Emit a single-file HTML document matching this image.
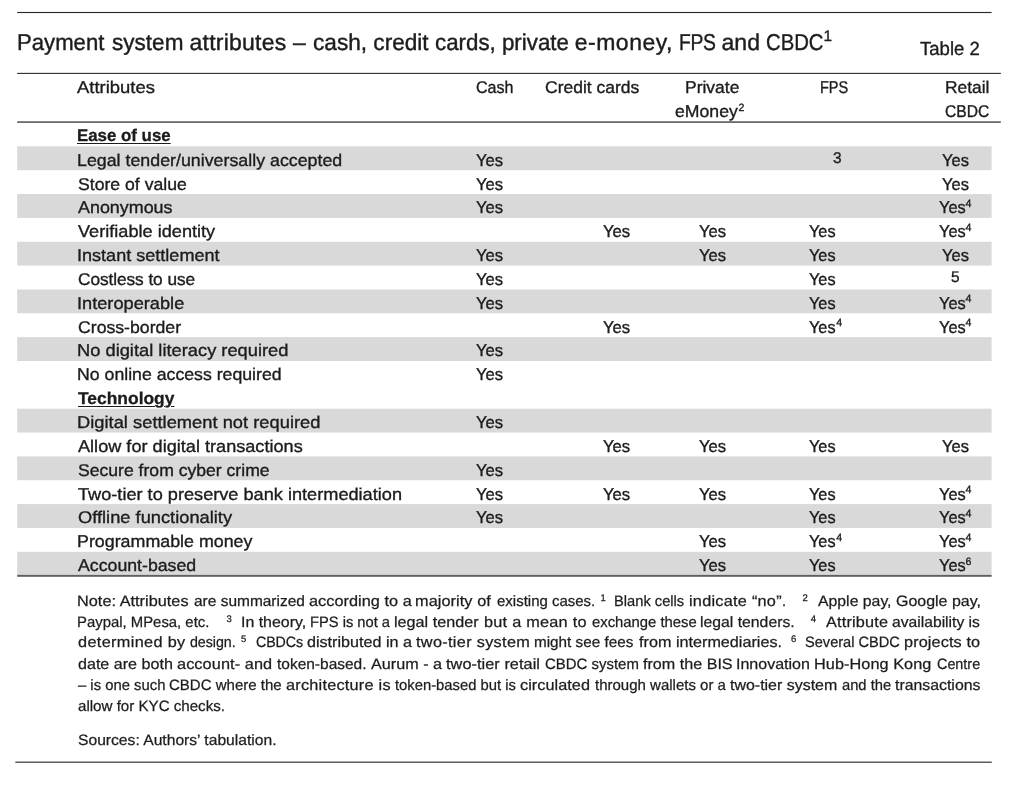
<!DOCTYPE html>
<html lang="en"><head><meta charset="utf-8"><title>Table 2</title>
<style>
html,body{margin:0;padding:0;background:#fff;}
body{width:1010px;height:789px;position:relative;overflow:hidden;font-family:"Liberation Sans", sans-serif;color:#1c1c1c;text-rendering:geometricPrecision;}
.bg{position:absolute;left:0;top:0;}
.t{position:absolute;white-space:pre;line-height:1;transform-origin:0 0;-webkit-text-stroke:0.35px #1c1c1c;}
.b{font-weight:bold;-webkit-text-stroke-width:0.3px;}
.n{-webkit-text-stroke-width:0.25px;}
.h{-webkit-text-stroke-width:0.4px;}
.u{text-decoration:underline;text-decoration-thickness:1.4px;text-underline-offset:1.8px;}
</style></head><body>
<svg class="bg" width="1010" height="789" viewBox="0 0 1010 789">
<rect x="17.20" y="146.35" width="974.40" height="23.85" fill="#d9d9d9"/>
<rect x="17.20" y="194.05" width="974.40" height="23.85" fill="#d9d9d9"/>
<rect x="17.20" y="241.75" width="974.40" height="23.85" fill="#d9d9d9"/>
<rect x="17.20" y="289.45" width="974.40" height="23.85" fill="#d9d9d9"/>
<rect x="17.20" y="337.15" width="974.40" height="23.85" fill="#d9d9d9"/>
<rect x="17.20" y="408.70" width="974.40" height="23.85" fill="#d9d9d9"/>
<rect x="17.20" y="456.40" width="974.40" height="23.85" fill="#d9d9d9"/>
<rect x="17.20" y="504.10" width="974.40" height="23.85" fill="#d9d9d9"/>
<rect x="17.20" y="551.80" width="974.40" height="23.85" fill="#d9d9d9"/>
<rect x="17.20" y="11.93" width="974.40" height="1.15" fill="#2a2a2a"/>
<rect x="17.20" y="72.85" width="983.60" height="1.10" fill="#2a2a2a"/>
<rect x="17.20" y="121.20" width="983.60" height="1.80" fill="#6a6a6a"/>
<rect x="17.20" y="574.90" width="974.40" height="1.90" fill="#606060"/>
<rect x="15.30" y="761.60" width="976.50" height="1.20" fill="#333"/>
</svg>
<div class="t h" style="left:17.44px;top:31px;font-size:23px;transform:scaleX(0.9624)">Payment </div>
<div class="t h" style="left:111.90px;top:31px;font-size:23px;transform:scaleX(0.9807)">system </div>
<div class="t h" style="left:189.60px;top:31px;font-size:23px;letter-spacing:0.225px">attributes – </div>
<div class="t h" style="left:312.70px;top:31px;font-size:23px;transform:scaleX(0.9831)">cash, credit </div>
<div class="t h" style="left:434.60px;top:31px;font-size:23px;transform:scaleX(0.9699)">cards, private </div>
<div class="t h" style="left:574.70px;top:31px;font-size:23px;letter-spacing:0.516px">e-money, </div>
<div class="t h" style="left:679.06px;top:31px;font-size:23px;transform:scaleX(0.8400);letter-spacing:-0.429px">FPS </div>
<div class="t h" style="left:721.40px;top:31px;font-size:23px;letter-spacing:0.084px">and </div>
<div class="t h" style="left:765.62px;top:31px;font-size:23px;transform:scaleX(0.8826)">CBDC</div>
<div class="t" style="left:823.40px;top:29px;font-size:15.4px">1</div>
<div class="t" style="left:920.40px;top:40px;font-size:19px;transform:scaleX(0.9769)">Table 2</div>
<div class="t" style="left:77.40px;top:79px;font-size:17px;transform:scaleX(1.0840)">Attributes</div>
<div class="t" style="left:475.80px;top:79px;font-size:17px;transform:scaleX(0.9457)">Cash</div>
<div class="t" style="left:545.20px;top:79px;font-size:17px;transform:scaleX(1.0292)">Credit cards</div>
<div class="t" style="left:685.47px;top:79px;font-size:17px;transform:scaleX(1.0281)">Private</div>
<div class="t" style="left:674.50px;top:103px;font-size:17px;transform:scaleX(1.0381)">eMoney</div>
<div class="t" style="left:738.60px;top:103px;font-size:10.6px">2</div>
<div class="t" style="left:819.95px;top:79px;font-size:17px;transform:scaleX(0.8543)">FPS</div>
<div class="t" style="left:945.48px;top:79px;font-size:17px;transform:scaleX(1.0219)">Retail</div>
<div class="t" style="left:945.10px;top:103px;font-size:17px;transform:scaleX(0.9187)">CBDC</div>
<div class="t b u" style="left:76.71px;top:127px;font-size:17px;transform:scaleX(0.9910)">Ease of use</div>
<div class="t l" style="left:76.65px;top:152px;font-size:17px;transform:scaleX(1.0472)">Legal tender/universally accepted</div>
<div class="t l" style="left:77.70px;top:176px;font-size:17px;transform:scaleX(1.0369)">Store of value</div>
<div class="t l" style="left:77.70px;top:199px;font-size:17px;transform:scaleX(1.0530)">Anonymous</div>
<div class="t l" style="left:77.70px;top:223px;font-size:17px;transform:scaleX(1.0673)">Verifiable identity</div>
<div class="t l" style="left:76.64px;top:247px;font-size:17px;transform:scaleX(1.0625)">Instant settlement</div>
<div class="t l" style="left:77.70px;top:271px;font-size:17px;transform:scaleX(1.0150);letter-spacing:-0.063px">Costless to use</div>
<div class="t l" style="left:76.63px;top:295px;font-size:17px;transform:scaleX(1.0706)">Interoperable</div>
<div class="t l" style="left:77.70px;top:319px;font-size:17px;transform:scaleX(1.0388)">Cross-border</div>
<div class="t l" style="left:76.62px;top:342px;font-size:17px;transform:scaleX(1.0750);letter-spacing:0.006px">No digital literacy required</div>
<div class="t l" style="left:76.66px;top:366px;font-size:17px;transform:scaleX(1.0410)">No online access required</div>
<div class="t b u" style="left:77.70px;top:390px;font-size:17px;transform:scaleX(1.0245)">Technology</div>
<div class="t l" style="left:76.62px;top:414px;font-size:17px;transform:scaleX(1.0750);letter-spacing:0.021px">Digital settlement not required</div>
<div class="t l" style="left:77.70px;top:438px;font-size:17px;transform:scaleX(1.0666)">Allow for digital transactions</div>
<div class="t l" style="left:77.70px;top:462px;font-size:17px;transform:scaleX(1.0346)">Secure from cyber crime</div>
<div class="t l" style="left:77.70px;top:486px;font-size:17px;transform:scaleX(1.0682)">Two-tier to preserve bank intermediation</div>
<div class="t l" style="left:77.70px;top:509px;font-size:17px;transform:scaleX(1.0749)">Offline functionality</div>
<div class="t l" style="left:76.65px;top:533px;font-size:17px;transform:scaleX(1.0490)">Programmable money</div>
<div class="t l" style="left:77.70px;top:557px;font-size:17px;transform:scaleX(1.0420)">Account-based</div>
<div class="t" style="left:475.80px;top:152px;font-size:17px;transform:scaleX(0.9768)">Yes</div>
<div class="t" style="left:475.80px;top:176px;font-size:17px;transform:scaleX(0.9768)">Yes</div>
<div class="t" style="left:475.80px;top:199px;font-size:17px;transform:scaleX(0.9768)">Yes</div>
<div class="t" style="left:475.80px;top:247px;font-size:17px;transform:scaleX(0.9768)">Yes</div>
<div class="t" style="left:475.80px;top:271px;font-size:17px;transform:scaleX(0.9768)">Yes</div>
<div class="t" style="left:475.80px;top:295px;font-size:17px;transform:scaleX(0.9768)">Yes</div>
<div class="t" style="left:475.80px;top:342px;font-size:17px;transform:scaleX(0.9768)">Yes</div>
<div class="t" style="left:475.80px;top:366px;font-size:17px;transform:scaleX(0.9768)">Yes</div>
<div class="t" style="left:475.80px;top:414px;font-size:17px;transform:scaleX(0.9768)">Yes</div>
<div class="t" style="left:475.80px;top:462px;font-size:17px;transform:scaleX(0.9768)">Yes</div>
<div class="t" style="left:475.80px;top:486px;font-size:17px;transform:scaleX(0.9768)">Yes</div>
<div class="t" style="left:475.80px;top:509px;font-size:17px;transform:scaleX(0.9768)">Yes</div>
<div class="t" style="left:602.50px;top:223px;font-size:17px;transform:scaleX(0.9804)">Yes</div>
<div class="t" style="left:602.50px;top:319px;font-size:17px;transform:scaleX(0.9804)">Yes</div>
<div class="t" style="left:602.50px;top:438px;font-size:17px;transform:scaleX(0.9804)">Yes</div>
<div class="t" style="left:602.50px;top:486px;font-size:17px;transform:scaleX(0.9804)">Yes</div>
<div class="t" style="left:699.20px;top:223px;font-size:17px;transform:scaleX(0.9768)">Yes</div>
<div class="t" style="left:699.20px;top:247px;font-size:17px;transform:scaleX(0.9768)">Yes</div>
<div class="t" style="left:699.20px;top:438px;font-size:17px;transform:scaleX(0.9768)">Yes</div>
<div class="t" style="left:699.20px;top:486px;font-size:17px;transform:scaleX(0.9768)">Yes</div>
<div class="t" style="left:699.20px;top:533px;font-size:17px;transform:scaleX(0.9768)">Yes</div>
<div class="t" style="left:699.20px;top:557px;font-size:17px;transform:scaleX(0.9768)">Yes</div>
<div class="t" style="left:809.30px;top:223px;font-size:17px;transform:scaleX(0.9584)">Yes</div>
<div class="t" style="left:809.30px;top:247px;font-size:17px;transform:scaleX(0.9584)">Yes</div>
<div class="t" style="left:809.30px;top:271px;font-size:17px;transform:scaleX(0.9584)">Yes</div>
<div class="t" style="left:809.30px;top:295px;font-size:17px;transform:scaleX(0.9584)">Yes</div>
<div class="t" style="left:809.30px;top:319px;font-size:17px;transform:scaleX(0.9584)">Yes</div>
<div class="t" style="left:836.20px;top:318px;font-size:10.6px">4</div>
<div class="t" style="left:809.30px;top:438px;font-size:17px;transform:scaleX(0.9584)">Yes</div>
<div class="t" style="left:809.30px;top:486px;font-size:17px;transform:scaleX(0.9584)">Yes</div>
<div class="t" style="left:809.30px;top:509px;font-size:17px;transform:scaleX(0.9584)">Yes</div>
<div class="t" style="left:809.30px;top:533px;font-size:17px;transform:scaleX(0.9584)">Yes</div>
<div class="t" style="left:836.20px;top:533px;font-size:10.6px">4</div>
<div class="t" style="left:809.30px;top:557px;font-size:17px;transform:scaleX(0.9584)">Yes</div>
<div class="t" style="left:941.90px;top:152px;font-size:17px;transform:scaleX(0.9694)">Yes</div>
<div class="t" style="left:941.90px;top:176px;font-size:17px;transform:scaleX(0.9694)">Yes</div>
<div class="t" style="left:941.90px;top:247px;font-size:17px;transform:scaleX(0.9694)">Yes</div>
<div class="t" style="left:941.90px;top:438px;font-size:17px;transform:scaleX(0.9694)">Yes</div>
<div class="t" style="left:938.80px;top:199px;font-size:17px;transform:scaleX(0.9621)">Yes</div>
<div class="t" style="left:965.60px;top:199px;font-size:10.6px">4</div>
<div class="t" style="left:938.80px;top:223px;font-size:17px;transform:scaleX(0.9621)">Yes</div>
<div class="t" style="left:965.60px;top:223px;font-size:10.6px">4</div>
<div class="t" style="left:938.80px;top:295px;font-size:17px;transform:scaleX(0.9621)">Yes</div>
<div class="t" style="left:965.60px;top:294px;font-size:10.6px">4</div>
<div class="t" style="left:938.80px;top:319px;font-size:17px;transform:scaleX(0.9621)">Yes</div>
<div class="t" style="left:965.60px;top:318px;font-size:10.6px">4</div>
<div class="t" style="left:938.80px;top:486px;font-size:17px;transform:scaleX(0.9621)">Yes</div>
<div class="t" style="left:965.60px;top:485px;font-size:10.6px">4</div>
<div class="t" style="left:938.80px;top:509px;font-size:17px;transform:scaleX(0.9621)">Yes</div>
<div class="t" style="left:965.60px;top:509px;font-size:10.6px">4</div>
<div class="t" style="left:938.80px;top:533px;font-size:17px;transform:scaleX(0.9621)">Yes</div>
<div class="t" style="left:965.60px;top:533px;font-size:10.6px">4</div>
<div class="t" style="left:938.80px;top:557px;font-size:17px;transform:scaleX(0.9621)">Yes</div>
<div class="t" style="left:965.60px;top:557px;font-size:10.6px">6</div>
<div class="t" style="left:833.05px;top:151px;font-size:15.4px">3</div>
<div class="t" style="left:950.95px;top:270px;font-size:15.4px">5</div>
<div class="t n" style="left:76.62px;top:594px;font-size:15px;transform:scaleX(1.0850);letter-spacing:0.017px">Note: Attributes </div>
<div class="t n" style="left:193.80px;top:594px;font-size:15px;transform:scaleX(1.0313)">are summarized </div>
<div class="t n" style="left:309.00px;top:594px;font-size:15px;transform:scaleX(1.0850);letter-spacing:0.033px">according to a </div>
<div class="t n" style="left:415.22px;top:594px;font-size:15px;transform:scaleX(1.0850);letter-spacing:0.070px">majority of </div>
<div class="t n" style="left:496.80px;top:594px;font-size:15px;transform:scaleX(0.9989)">existing cases.</div>
<div class="t n" style="left:600.50px;top:594px;font-size:9.5px">1</div>
<div class="t n" style="left:614.42px;top:594px;font-size:15px;transform:scaleX(0.9794)">Blank cells </div>
<div class="t n" style="left:688.62px;top:594px;font-size:15px;transform:scaleX(1.0850);letter-spacing:0.232px">indicate “no”.</div>
<div class="t n" style="left:802.55px;top:594px;font-size:9.5px">2</div>
<div class="t n" style="left:818.20px;top:594px;font-size:15px;transform:scaleX(1.0536)">Apple pay, </div>
<div class="t n" style="left:896.10px;top:594px;font-size:15px;transform:scaleX(1.0648)">Google pay,</div>
<div class="t n" style="left:76.71px;top:615px;font-size:15px;transform:scaleX(0.9922)">Paypal, MPesa, etc.</div>
<div class="t n" style="left:226.50px;top:615px;font-size:9.5px">3</div>
<div class="t n" style="left:240.54px;top:615px;font-size:15px;transform:scaleX(1.0612)">In theory, </div>
<div class="t n" style="left:310.22px;top:615px;font-size:15px;transform:scaleX(0.9794)">FPS is not a </div>
<div class="t n" style="left:394.22px;top:615px;font-size:15px;transform:scaleX(1.0792)">legal tender </div>
<div class="t n" style="left:484.40px;top:615px;font-size:15px;transform:scaleX(1.0850);letter-spacing:0.227px">but a mean to </div>
<div class="t n" style="left:591.90px;top:615px;font-size:15px;transform:scaleX(0.9893)">exchange these </div>
<div class="t n" style="left:699.75px;top:615px;font-size:15px;transform:scaleX(1.0513)">legal tenders.</div>
<div class="t n" style="left:810.80px;top:615px;font-size:9.5px">4</div>
<div class="t n" style="left:825.60px;top:615px;font-size:15px;transform:scaleX(1.0850);letter-spacing:0.154px">Attribute </div>
<div class="t n" style="left:892.40px;top:615px;font-size:15px;transform:scaleX(1.0442)">availability is</div>
<div class="t n" style="left:77.60px;top:635px;font-size:15px;transform:scaleX(1.0850);letter-spacing:0.312px">determined by </div>
<div class="t n" style="left:190.00px;top:635px;font-size:15px;transform:scaleX(0.9500);letter-spacing:-0.060px">design.</div>
<div class="t n" style="left:241.10px;top:635px;font-size:9.5px">5</div>
<div class="t n" style="left:256.00px;top:635px;font-size:15px;transform:scaleX(0.9500);letter-spacing:-0.098px">CBDCs </div>
<div class="t n" style="left:306.90px;top:635px;font-size:15px;transform:scaleX(1.0754)">distributed in a </div>
<div class="t n" style="left:416.30px;top:635px;font-size:15px;transform:scaleX(1.0850);letter-spacing:0.291px">two-tier system </div>
<div class="t n" style="left:534.28px;top:635px;font-size:15px;transform:scaleX(1.0185)">might see fees </div>
<div class="t n" style="left:638.90px;top:635px;font-size:15px;transform:scaleX(1.0794)">from intermediaries.</div>
<div class="t n" style="left:791.00px;top:635px;font-size:9.5px">6</div>
<div class="t n" style="left:805.20px;top:635px;font-size:15px;transform:scaleX(0.9725)">Several CBDC </div>
<div class="t n" style="left:904.10px;top:635px;font-size:15px;transform:scaleX(1.0850);letter-spacing:0.091px">projects to</div>
<div class="t n" style="left:77.60px;top:657px;font-size:15px;transform:scaleX(1.0727)">date are both </div>
<div class="t n" style="left:176.90px;top:657px;font-size:15px;transform:scaleX(1.0850);letter-spacing:0.084px">account- and </div>
<div class="t n" style="left:276.70px;top:657px;font-size:15px;transform:scaleX(1.0320)">token-based. </div>
<div class="t n" style="left:370.50px;top:657px;font-size:15px;transform:scaleX(1.0783)">Aurum - a </div>
<div class="t n" style="left:446.00px;top:657px;font-size:15px;transform:scaleX(1.0850);letter-spacing:0.053px">two-tier retail </div>
<div class="t n" style="left:544.60px;top:657px;font-size:15px;transform:scaleX(0.9965)">CBDC system </div>
<div class="t n" style="left:642.60px;top:657px;font-size:15px;transform:scaleX(1.0750)">from the BIS </div>
<div class="t n" style="left:735.63px;top:657px;font-size:15px;transform:scaleX(1.0669)">Innovation </div>
<div class="t n" style="left:813.91px;top:657px;font-size:15px;transform:scaleX(1.0850);letter-spacing:0.050px">Hub-Hong Kong </div>
<div class="t n" style="left:937.00px;top:657px;font-size:15px;transform:scaleX(0.9579)">Centre</div>
<div class="t n" style="left:77.50px;top:678px;font-size:15px;transform:scaleX(0.9886)">– is one such </div>
<div class="t n" style="left:169.00px;top:678px;font-size:15px;transform:scaleX(1.0008)">CBDC where the </div>
<div class="t n" style="left:285.80px;top:678px;font-size:15px;transform:scaleX(1.0850);letter-spacing:0.212px">architecture is </div>
<div class="t n" style="left:395.30px;top:678px;font-size:15px;transform:scaleX(0.9862)">token-based but is </div>
<div class="t n" style="left:520.30px;top:678px;font-size:15px;transform:scaleX(1.0850);letter-spacing:0.036px">circulated </div>
<div class="t n" style="left:594.90px;top:678px;font-size:15px;transform:scaleX(1.0002)">through wallets or a </div>
<div class="t n" style="left:730.00px;top:678px;font-size:15px;transform:scaleX(1.0637)">two-tier system </div>
<div class="t n" style="left:841.70px;top:678px;font-size:15px;transform:scaleX(0.9813)">and the </div>
<div class="t n" style="left:894.90px;top:678px;font-size:15px;transform:scaleX(1.0563)">transactions</div>
<div class="t n" style="left:77.60px;top:699px;font-size:15px;transform:scaleX(1.0075)">allow for KYC checks.</div>
<div class="t n" style="left:77.60px;top:733px;font-size:15px;transform:scaleX(1.0427)">Sources: Authors’ tabulation.</div>
</body></html>
